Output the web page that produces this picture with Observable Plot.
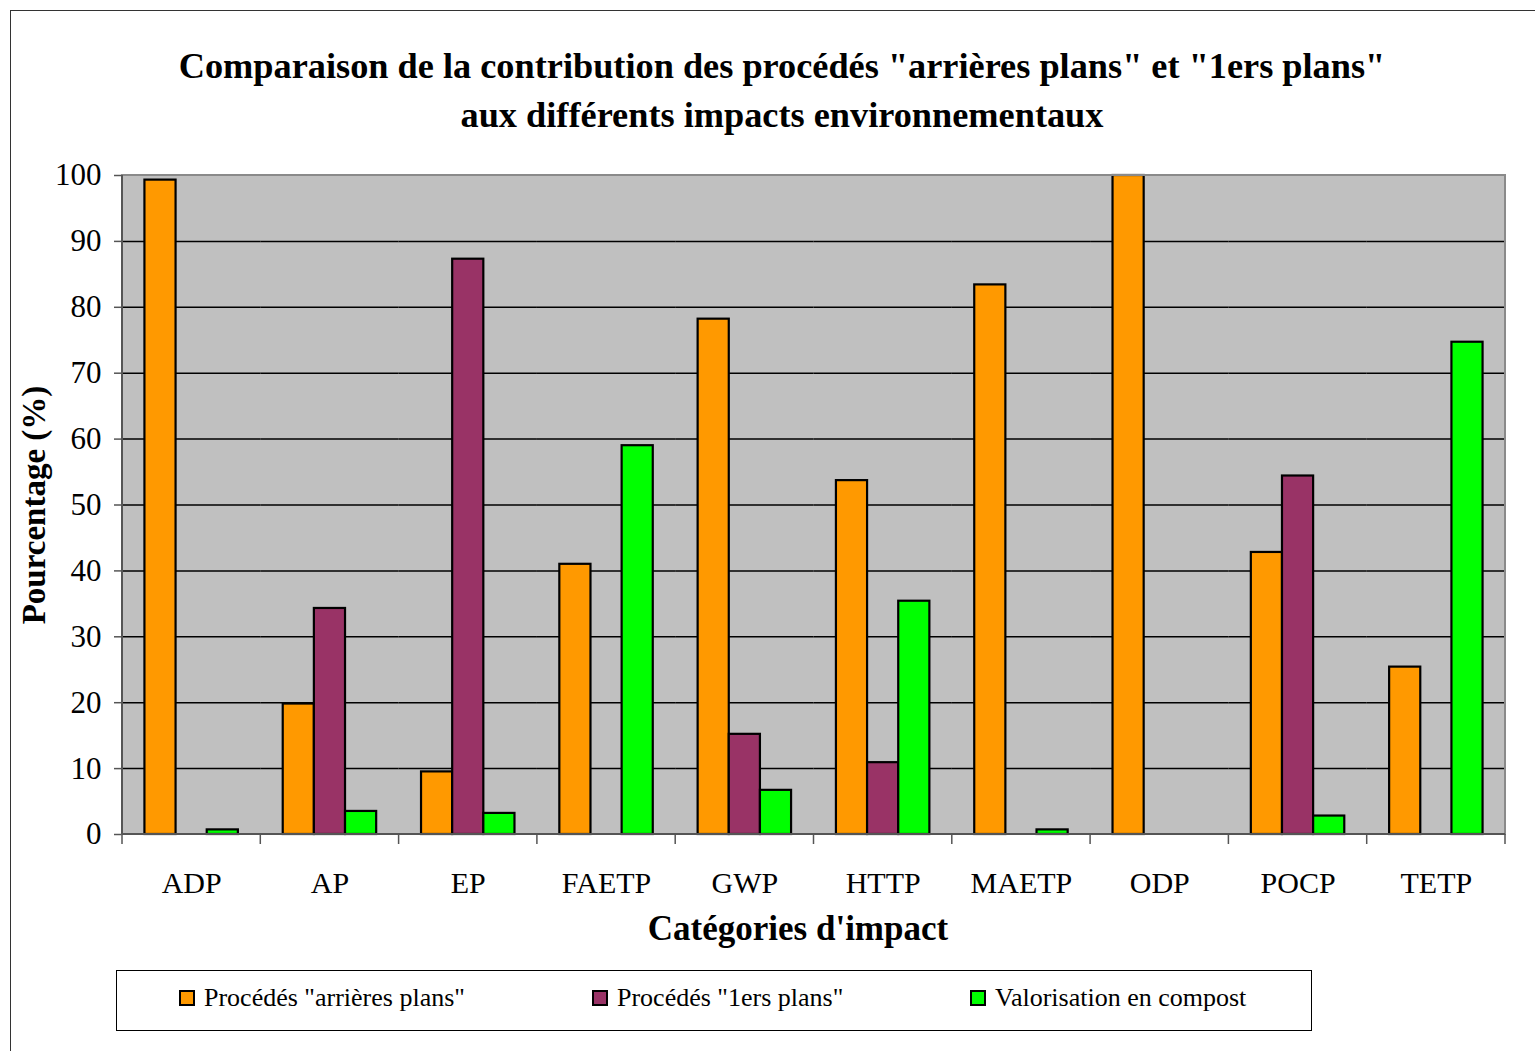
<!DOCTYPE html>
<html>
<head>
<meta charset="utf-8">
<script src="https://cdn.jsdelivr.net/npm/d3@7"></script>
<script src="https://cdn.jsdelivr.net/npm/@observablehq/plot@0.6"></script>
<style>
  html, body { margin: 0; padding: 0; background: #fff; overflow: hidden; }
  body { font-family: "Liberation Serif", "Times New Roman", serif; color: #000; }
  #wrap { position: relative; width: 1535px; height: 1051px; overflow: hidden; }
  #border { position: absolute; left: 10px; top: 10px; width: 1600px; height: 1100px; border: 1px solid #333; box-sizing: border-box; }
  #chart { position: absolute; left: 0; top: 0; }
  .t { position: absolute; white-space: nowrap; line-height: 1; }
  .title { left: 0; width: 1564px; text-align: center; font-weight: bold; font-size: 36.3px; }
  #xlabel { left: 0; width: 1596px; text-align: center; font-weight: bold; font-size: 35px; top: 911px; }
  #ylabel { left: 34px; top: 505px; font-weight: bold; font-size: 33px; transform: translate(-50%, -50%) rotate(-90deg); }
  #legend { position: absolute; left: 116px; top: 970px; width: 1196px; height: 61px; border: 1px solid #000; box-sizing: border-box; background: #fff; }
  .sw { position: absolute; top: 19px; width: 16px; height: 16px; border: 2px solid #000; box-sizing: border-box; }
  .lt { position: absolute; top: 14px; font-size: 26px; line-height: 1; white-space: nowrap; }
</style>
</head>
<body>
<div id="wrap">
  <div id="border"></div>
  <div id="chart"></div>
  <div class="t title" style="top:48px">Comparaison de la contribution des procédés "arrières plans" et "1ers plans"</div>
  <div class="t title" style="top:97px">aux différents impacts environnementaux</div>
  <div class="t" id="xlabel">Catégories d'impact</div>
  <div class="t" id="ylabel">Pourcentage (%)</div>
  <div id="legend"></div>
</div>
<script>
// ---- data ----
const categories = ["ADP", "AP", "EP", "FAETP", "GWP", "HTTP", "MAETP", "ODP", "POCP", "TETP"];
const seriesNames = ['Procédés "arrières plans"', 'Procédés "1ers plans"', 'Valorisation en compost'];
const arrieresPlans = [99.3, 19.8, 9.5, 41.0, 78.2, 53.7, 83.4, 100, 42.8, 25.4];
const premiersPlans = [0, 34.3, 87.3, 0, 15.2, 10.9, 0, 0, 54.4, 0];
const compost = [0.7, 3.5, 3.2, 59.0, 6.7, 35.4, 0.7, 0, 2.8, 74.7];
const seriesColors = ["#FF9900", "#993366", "#00FF00"];
const yTicks = [0, 10, 20, 30, 40, 50, 60, 70, 80, 90, 100];
const gridTicks = [10, 20, 30, 40, 50, 60, 70, 80, 90];

const seriesValues = [arrieresPlans, premiersPlans, compost];
const table = categories.flatMap((cat, i) =>
  seriesNames.map((s, k) => ({cat, series: s, value: seriesValues[k][i]}))
);

const W = 1535, H = 960, mt = 175, mb = 126, ml = 122, mr = 30;
const font = '"Liberation Serif", "Times New Roman", serif';

const svg = Plot.plot({
  width: W, height: H,
  marginTop: mt, marginBottom: mb, marginLeft: ml, marginRight: mr,
  style: {fontFamily: font, background: "transparent", color: "#000", overflow: "visible"},
  fx: {domain: categories, padding: 0, round: false, label: null},
  x: {domain: seriesNames, paddingInner: 0, paddingOuter: 0.72, round: false, axis: null},
  y: {domain: [0, 100], label: null},
  color: {domain: seriesNames, range: seriesColors},
  marks: [
    Plot.ruleY(gridTicks, {stroke: "#000", strokeWidth: 1.5}),
    Plot.barY(table, {fx: "cat", x: "series", y: "value", fill: "series", stroke: "#000", strokeWidth: 2.2, filter: d => d.value > 0}),
    Plot.axisY({ticks: yTicks, tickSize: 8, tickPadding: 13, fontSize: 31, stroke: "#555", strokeWidth: 1.5, label: null, tickFormat: d => String(d)}),
    Plot.axisFx({anchor: "bottom", tickSize: 0, tickPadding: 37, fontSize: 30, label: null})
  ]
});

// plot-area background, outline and category boundary ticks
const fxDesc = svg.scale ? svg.scale("fx") : null;
const band = d3.scaleBand().domain(categories).range(fxDesc ? fxDesc.range : [ml, W - mr]).padding(0);
const root = d3.select(svg);
root.insert("rect", ":first-child")
  .attr("x", ml).attr("y", mt).attr("width", W - ml - mr).attr("height", H - mt - mb)
  .attr("fill", "#C0C0C0");
const g = root.append("g");
g.append("rect").attr("x", ml).attr("y", mt).attr("width", W - ml - mr).attr("height", H - mt - mb)
  .attr("fill", "none").attr("stroke", "#8a8a8a").attr("stroke-width", 2);
g.append("line").attr("x1", ml).attr("x2", ml).attr("y1", mt).attr("y2", H - mb)
  .attr("stroke", "#555").attr("stroke-width", 2);
g.append("line").attr("x1", ml).attr("x2", W - mr).attr("y1", H - mb).attr("y2", H - mb)
  .attr("stroke", "#555").attr("stroke-width", 2);
const bounds = categories.map(c => band(c)).concat([band.range()[1]]);
g.selectAll("line.bt").data(bounds).join("line").attr("class", "bt")
  .attr("x1", d => d).attr("x2", d => d).attr("y1", H - mb).attr("y2", H - mb + 10)
  .attr("stroke", "#555").attr("stroke-width", 1.5);

document.getElementById("chart").appendChild(svg);

// legend
const legend = document.getElementById("legend");
const legendLefts = [62, 475, 853];
seriesNames.forEach((s, k) => {
  const sw = document.createElement("div");
  sw.className = "sw";
  sw.style.left = legendLefts[k] + "px";
  sw.style.background = seriesColors[k];
  legend.appendChild(sw);
  const lt = document.createElement("div");
  lt.className = "lt";
  lt.style.left = (legendLefts[k] + 25) + "px";
  lt.textContent = s;
  legend.appendChild(lt);
});
</script>
</body>
</html>
